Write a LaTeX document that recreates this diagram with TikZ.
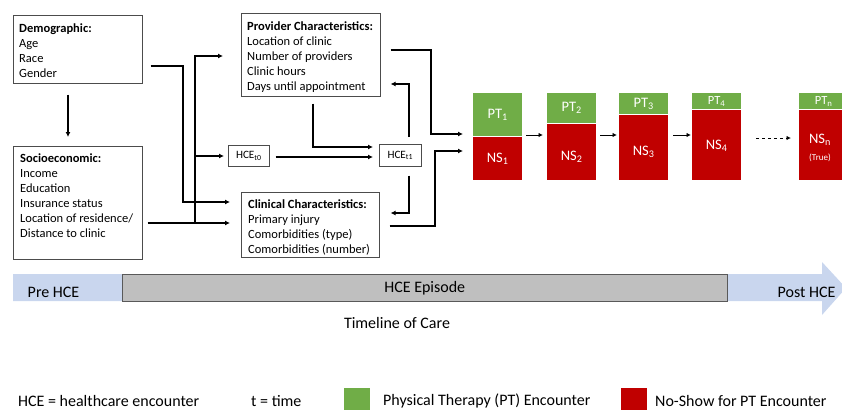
\documentclass[tikz,border=0pt]{standalone}
\usepackage{fontspec}
\setmainfont{Carlito}
\usetikzlibrary{arrows.meta}
\definecolor{ptgreen}{HTML}{70AD47}
\definecolor{nsred}{HTML}{C00000}
\definecolor{bandblue}{HTML}{C9D6EE}
\definecolor{epgray}{HTML}{BFBFBF}
\begin{document}
\begin{tikzpicture}[x=1pt,y=-1pt,
 box/.style={draw=black!70, line width=0.6pt, rectangle, inner sep=0pt, anchor=north west},
 txt/.style={align=left, inner sep=0pt, anchor=north west, font=\fontsize{12.5}{15}\selectfont},
 arr/.style={-{Latex[length=5pt,width=5pt]}, line width=1.3pt},
 sarr/.style={-{Latex[length=4.5pt,width=4.5pt]}, line width=1pt},
 ptbox/.style={fill=ptgreen, text=white, inner sep=0pt, anchor=north west, minimum width=49pt, font=\fontsize{14.5}{15}\selectfont},
 nsbox/.style={fill=nsred, inner sep=0pt, anchor=north west, minimum width=49pt},
 nslab/.style={text=white, inner sep=0pt, font=\fontsize{14.5}{15}\selectfont},
 lab/.style={inner sep=0pt, font=\fontsize{16}{18}\selectfont},
]
\useasboundingbox (0,0) rectangle (842,409);
\clip (0,0) rectangle (842,409);

% boxes
\node[box, minimum width=129pt, minimum height=68pt] (demo) at (13,15) {};
\node[txt] (demotxt) at ([shift={(6pt,-9pt)}]demo.north west) {\textbf{Demographic:}\\Age\\Race\\Gender};
\node[box, minimum width=129pt, minimum height=113pt] (socio) at (13,146) {};
\node[txt] (sociotxt) at ([shift={(7pt,-8pt)}]socio.north west) {\textbf{Socioeconomic:}\\Income\\Education\\Insurance status\\Location of residence/\\Distance to clinic};
\node[box, minimum width=139pt, minimum height=83pt] (prov) at (241,13) {};
\node[txt] (provtxt) at ([shift={(6pt,-9pt)}]prov.north west) {\textbf{Provider Characteristics:}\\Location of clinic\\Number of providers\\Clinic hours\\Days until appointment};
\node[box, minimum width=138pt, minimum height=65pt] (clin) at (241,192) {};
\node[txt] (clintxt) at ([shift={(7pt,-7.5pt)}]clin.north west) {\textbf{Clinical Characteristics:}\\Primary injury\\Comorbidities (type)\\Comorbidities (number)};
\node[box, minimum width=41pt, minimum height=21pt, font=\fontsize{11.2}{12}\selectfont] (t0) at (228,145) {HCE\textsubscript{t0}};
\node[box, minimum width=42pt, minimum height=22pt, font=\fontsize{11.2}{12}\selectfont] (t1) at (379,144) {HCE\textsubscript{t1}};

% connectors
\draw[arr, shorten <=11pt, shorten >=9pt] (demo.south -| 68,0) -- (socio.north -| 68,0);
\draw[arr, shorten <=8pt, shorten >=11pt] (demo.east |- 0,66) -| (183,202) -- (clin.west |- 0,202);
\draw[arr, shorten <=5pt, shorten >=11pt] (socio.east |- 0,223) -- (clin.west |- 0,223);
\draw[arr, shorten >=18pt] (195,223) |- (prov.west |- 0,56);
\draw[arr, shorten >=4pt] (195,156) -- (t0.west |- 0,156);
\draw[arr, shorten <=6pt, shorten >=6pt] (t0.east |- 0,157) -- (t1.west |- 0,157);
\draw[arr, shorten <=7pt, shorten >=6pt] (prov.south -| 313,0) |- (t1.west |- 0,147);
\draw[arr, shorten <=7pt, shorten >=10pt] (t1.north -| 409,0) |- (prov.east |- 0,84);
\draw[arr, shorten <=9pt, shorten >=11pt] (t1.south -| 409,0) |- (clin.east |- 0,213);

% PT / NS boxes
\node[ptbox, minimum height=43pt] (g1) at (473,93) {PT\textsubscript{1}};
\node[nsbox, minimum height=43pt] (r1) at (g1.south west) {};
\node[nslab] (n1) at ([yshift=-1pt]r1.center) {NS\textsubscript{1}};
\node[ptbox, minimum height=30pt] (g2) at (547,93) {PT\textsubscript{2}};
\node[nsbox, minimum height=56pt] (r2) at (g2.south west) {};
\node[nslab] (n2) at ([yshift=-5pt]r2.center) {NS\textsubscript{2}};
\node[ptbox, minimum height=21pt] (g3) at (619,93) {PT\textsubscript{3}};
\node[nsbox, minimum height=65pt] (r3) at (g3.south west) {};
\node[nslab] (n3) at ([yshift=-5pt]r3.center) {NS\textsubscript{3}};
\node[ptbox, minimum height=16pt, font=\fontsize{12.5}{13}\selectfont] (g4) at (692,93) {PT\textsubscript{4}};
\node[nsbox, minimum height=70pt] (r4) at (g4.south west) {};
\node[nslab] (n4) at ([yshift=-1pt]r4.center) {NS\textsubscript{4}};
\node[ptbox, minimum height=16pt, font=\fontsize{12.5}{13}\selectfont] (gn) at (799,93) {PT\textsubscript{n}};
\node[nsbox, minimum height=70pt] (rn) at (gn.south west) {};
\node[nslab] (nn) at (820,140) {NS\textsubscript{n}};
\node[inner sep=0pt, text=white, font=\fontsize{9}{10}\selectfont] (nt) at (820,158) {(True)};

\draw[arr, shorten <=10pt, shorten >=10pt] (prov.east |- 0,50) -| (431,134) -- (g1.west |- 0,134);
\draw[arr, shorten <=10pt, shorten >=10pt] (clin.east |- 0,226) -| (435,151) -- (r1.west |- 0,151);

\draw[sarr, shorten <=4pt, shorten >=4pt] (r1.east |- 0,135) -- (r2.west |- 0,135);
\draw[sarr, shorten <=4pt, shorten >=2pt] (r2.east |- 0,135) -- (r3.west |- 0,135);
\draw[sarr, shorten <=5pt, shorten >=1pt] (r3.east |- 0,135) -- (r4.west |- 0,135);
\draw[sarr, dashed, shorten <=15pt, shorten >=8pt] (r4.east |- 0,138) -- (rn.west |- 0,138);

% timeline
\fill[bandblue] (13,274) -- (822,274) -- (822,262) -- (846,288) -- (822,315) -- (822,301) -- (13,301) -- cycle;
\node[draw=black!65, line width=0.6pt, fill=epgray, minimum width=605pt, minimum height=27pt, inner sep=0pt, anchor=north west, lab] (ep) at (122,274) {HCE Episode};
\node[lab] (pre) at (53.5,292.5) {Pre HCE};
\node[lab] (post) at (806.5,292) {Post HCE};
\node[lab] (toc) at (397,323) {Timeline of Care};

% legend
\node[lab, anchor=west] (l1) at (18,401) {HCE = healthcare encounter};
\node[lab, anchor=west] (l2) at (251,401) {t = time};
\fill[ptgreen] (344,388) rectangle (370,412);
\node[lab, anchor=west] (l3) at (383,401) {Physical Therapy (PT) Encounter};
\fill[nsred] (621,388) rectangle (647,412);
\node[lab, anchor=west] (l4) at (655,401) {No-Show for PT Encounter};
\end{tikzpicture}
\end{document}
